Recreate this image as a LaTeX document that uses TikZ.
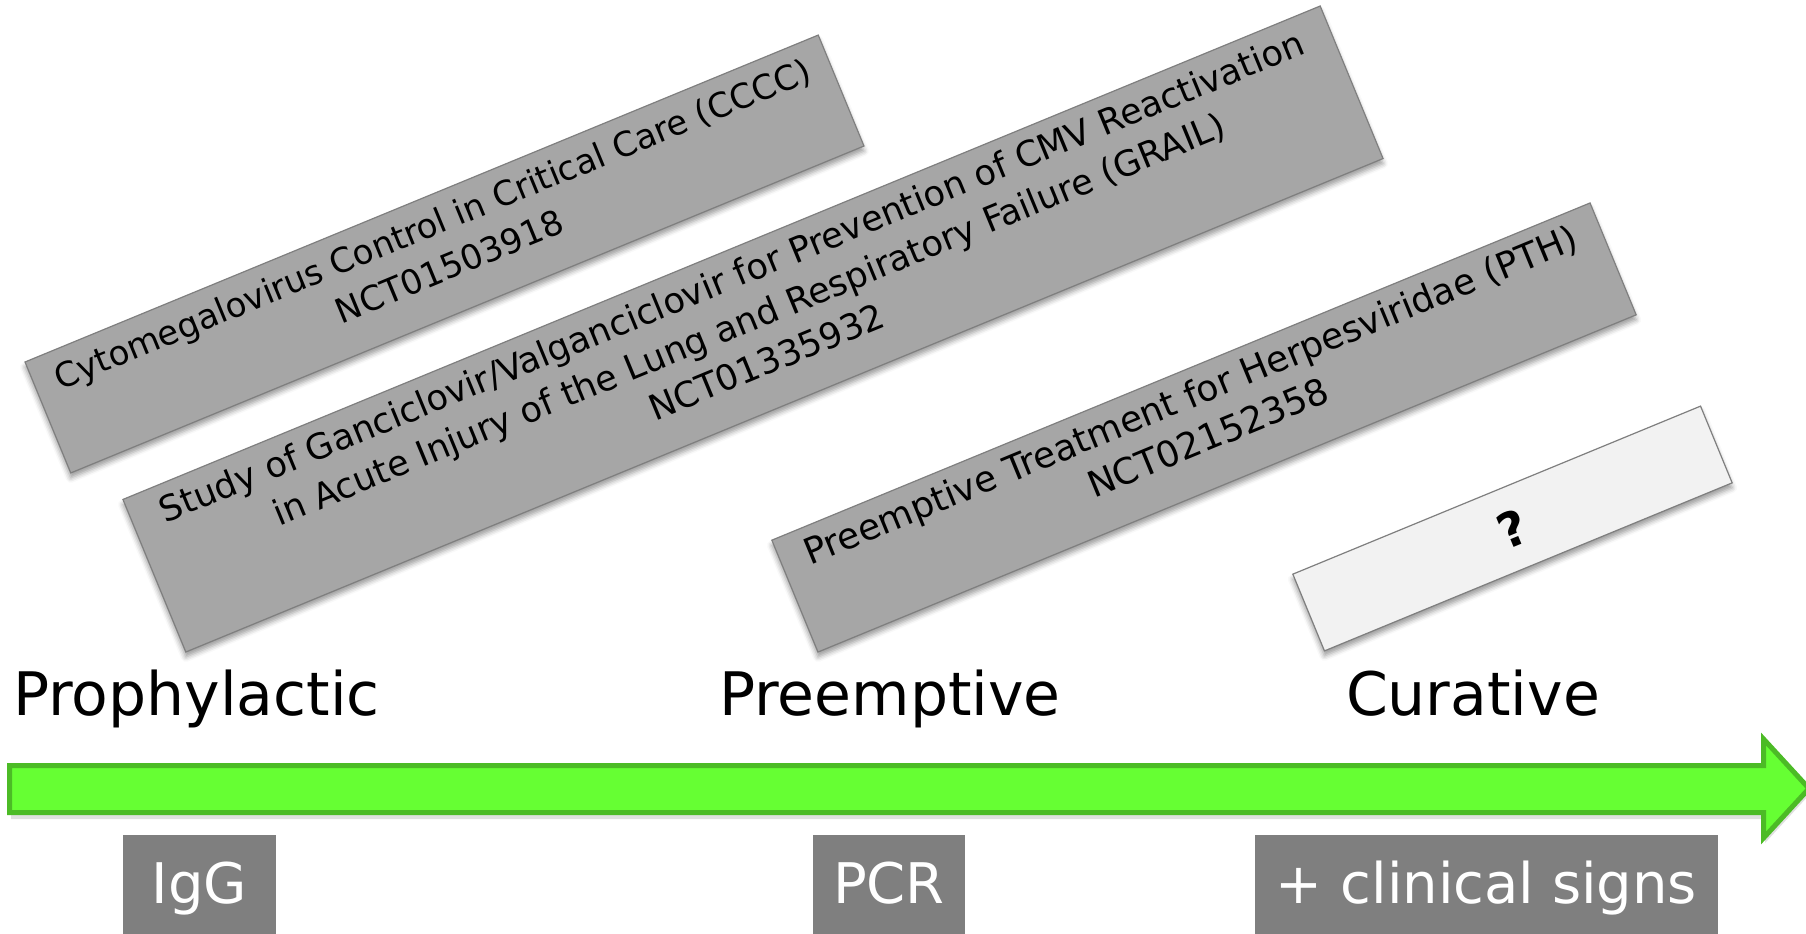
\documentclass[tikz,border=0pt]{standalone}
\usepackage{fontspec}
\setmainfont{DejaVu Sans}
\usetikzlibrary{shadows.blur}
\definecolor{boxfill}{HTML}{A6A6A6}
\definecolor{boxline}{HTML}{7F7F7F}
\definecolor{qfill}{HTML}{F2F2F2}
\definecolor{lowfill}{HTML}{7F7F7F}
\definecolor{arrowfill}{HTML}{66FF33}
\definecolor{arrowline}{HTML}{4CBB26}
\begin{document}
\begin{tikzpicture}[x=0.5pt,y=0.5pt,
  trial/.style={draw=boxline, line width=0.6pt, fill=boxfill, rotate=22.4, inner sep=0pt,
     blur shadow={shadow xshift=0pt, shadow yshift=-2.5pt, shadow blur radius=2.5pt, shadow opacity=40}},
  trialtext/.style={rotate=22.4, anchor=north, align=center, font=\fontsize{17.6}{23}\selectfont, inner sep=6pt},
  phase/.style={anchor=base, font=\fontsize{30}{36}\selectfont},
  testbox/.style={fill=lowfill, anchor=north, inner sep=0pt, text=white, text height=34pt, text depth=30pt, font=\fontsize{28}{34}\selectfont}
]
\useasboundingbox (0,0) rectangle (1806,-933);

% trial boxes
\node[trial, minimum width=429pt, minimum height=60pt] (b1) at (444.5,-254) {};
\node[trialtext, font=\fontsize{17}{23}\selectfont, inner sep=7pt] (t1) at (b1.north) {Cytomegalovirus Control in Critical Care (CCCC)\\NCT01503918};

\node[trial, minimum width=647.5pt, minimum height=82.5pt] (b2) at (753,-329) {};
\node[trialtext] (t2) at (b2.north) {Study of Ganciclovir/Valganciclovir for Prevention of CMV Reactivation\\in Acute Injury of the Lung and Respiratory Failure (GRAIL)\\NCT01335932};

\node[trial, minimum width=442.5pt, minimum height=60.5pt] (b3) at (1204,-427.5) {};
\node[trialtext, font=\fontsize{18}{23}\selectfont, inner sep=5.5pt] (t3) at (b3.north) {Preemptive Treatment for Herpesviridae (PTH)\\NCT02152358};

\node[trial, fill=qfill, minimum width=220.5pt, minimum height=41.5pt] (b4) at (1512.5,-528.5) {};
\node[rotate=22.4, font=\fontsize{24}{26}\selectfont\bfseries] (t4) at (b4.center) {?};

% phase labels
\node[phase] (p1) at (196.5,-715) {Prophylactic};
\node[phase] (p2) at (890,-715) {Preemptive};
\node[phase] (p3) at (1473,-715) {Curative};

% timeline arrow
\fill[black, opacity=0.12] (11,-771) -- (1765,-771) -- (1765,-745) -- (1810,-794) -- (1765,-843) -- (1765,-819) -- (11,-819) -- cycle;
\draw[line width=2.5pt, draw=arrowline, fill=arrowfill, line join=miter]
  (9.5,-765.5) -- (1763.5,-765.5) -- (1763.5,-739) -- (1809,-788.5) -- (1763.5,-838) -- (1763.5,-812.5) -- (9.5,-812.5) -- cycle;

% test boxes
\node[testbox, minimum width=76.5pt] (igg) at (199.5,-835) {IgG};
\node[testbox, minimum width=76pt] (pcr) at (889,-835) {PCR};
\node[testbox, minimum width=231.5pt] (cs) at (1486.5,-835) {+ clinical signs};
\end{tikzpicture}
\end{document}
